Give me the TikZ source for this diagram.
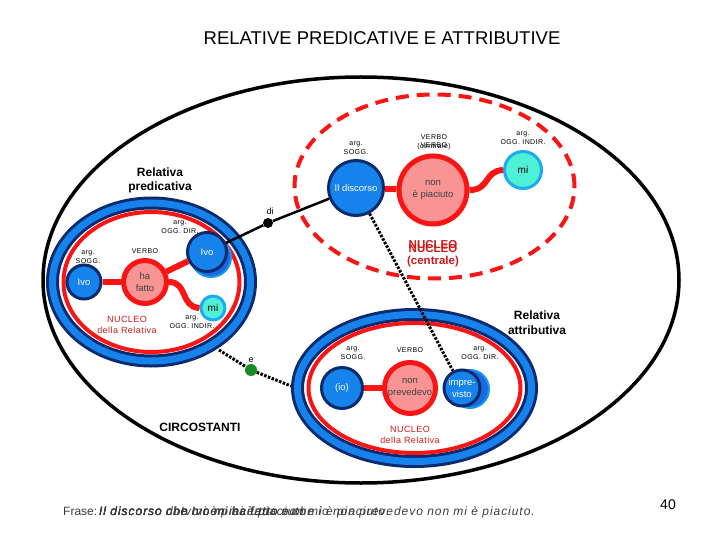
\documentclass[tikz,border=0pt]{standalone}
\usepackage{fontspec}
\setmainfont{Liberation Sans}
\usetikzlibrary{calc}
\definecolor{navyc}{RGB}{12,42,110}
\definecolor{bluec}{RGB}{22,130,235}
\definecolor{shadowc}{RGB}{25,105,225}
\definecolor{pinkc}{RGB}{248,148,148}
\definecolor{redc}{RGB}{250,20,20}
\definecolor{cyanc}{RGB}{80,240,215}
\definecolor{cyanb}{RGB}{30,170,240}
\definecolor{nucred}{RGB}{205,25,25}
\definecolor{greenc}{RGB}{25,140,35}
\definecolor{frasec}{RGB}{60,60,60}
\begin{document}
\begin{tikzpicture}[x=1pt,y=-1pt,
 argc/.style={circle,fill=bluec,draw=navyc,line width=3pt,text=white,inner sep=0pt,font=\fontsize{9.5}{11.5}\selectfont,align=center},
 verbc/.style={circle,fill=pinkc,draw=redc,line width=5pt,inner sep=0pt,text=black!75,font=\fontsize{9.5}{12}\selectfont,align=center},
 mic/.style={circle,fill=cyanc,draw=cyanb,line width=3pt,inner sep=0pt,font=\fontsize{10}{12}\selectfont},
 shad/.style={circle,fill=shadowc,draw=cyanb!50!bluec,line width=2pt,inner sep=0pt},
 lbl/.style={inner sep=0pt,align=center,font=\fontsize{7}{9}\selectfont\addfontfeatures{LetterSpace=6}},
 rel/.style={inner sep=0pt,align=center,font=\bfseries\fontsize{12}{14.5}\selectfont},
 nuc/.style={inner sep=0pt,align=center,text=nucred,font=\fontsize{9}{11}\selectfont\addfontfeatures{LetterSpace=5}},
 nucb/.style={inner sep=0pt,align=center,text=nucred,font=\bfseries\fontsize{11.5}{12}\selectfont},
 redlink/.style={draw=redc,line width=6pt},
 dotlink/.style={draw=black,line width=3pt,dash pattern=on 2.5pt off 1.5pt},
 sent/.style={anchor=base west,inner sep=0pt,text=frasec,font=\itshape\fontsize{12}{14}\selectfont\addfontfeatures{LetterSpace=8}},
]
\useasboundingbox (0,0) rectangle (720,540);

% title
\node[font=\fontsize{18.5}{21}\selectfont] (title) at (382,38) {RELATIVE PREDICATIVE E ATTRIBUTIVE};

% big ellipse and dashed nucleus
\draw[line width=3.5pt] (361,280) ellipse [x radius=318pt, y radius=203pt];
\draw[redc,line width=4pt,dash pattern=on 13pt off 8pt] (434.5,186.5) ellipse [x radius=140pt,y radius=92pt];

% left relative ring
\draw[navyc,line width=13pt] (151.5,282) ellipse [x radius=99pt,y radius=79pt];
\draw[bluec,line width=7pt] (151.5,282) ellipse [x radius=99pt,y radius=79pt];
\draw[redc,line width=4pt] (151.5,282) ellipse [x radius=88pt,y radius=70pt];

% right relative ring
\draw[navyc,line width=13pt] (414.5,388) ellipse [x radius=117pt,y radius=73.5pt];
\draw[bluec,line width=7pt] (414.5,388) ellipse [x radius=117pt,y radius=73.5pt];
\draw[redc,line width=4pt] (414.5,388) ellipse [x radius=106pt,y radius=65pt];

% labels top
\node[lbl] (lsogg) at (356,148) {arg.\\SOGG.};
\node[lbl] (lverbc) at (434,142.5) {VERBO\\(centrale)};
\node[lbl] (lverbc2) at (434,145) {VERBO};
\node[lbl] (lindir) at (523,138) {arg.\\OGG. INDIR.};

% top nodes
\node[argc,minimum size=55pt] (disc) at (356,188) {Il discorso};
\node[verbc,minimum size=68pt] (piac) at (433,190) {non\\è piaciuto};
\node[mic,minimum size=37pt] (mitop) at (523,170) {mi};
\node[nucb] (nuc1) at (433,245) {NUCLEO};
\node[nucb] (nuc2) at (433,256) {NUCLEO\\(centrale)};

\draw[redlink] (disc) -- (piac);
\draw[redlink] (piac.east) .. controls (490,190) and (484,171) .. (mitop.west);

% left relative contents
\node[rel] (relpred) at (160,180.5) {Relativa\\predicativa};
\node[lbl] (lsogg2) at (88,257) {arg.\\SOGG.};
\node[lbl] (lverb2) at (145,251) {VERBO};
\node[lbl] (ldir2) at (180,227) {arg.\\OGG. DIR.};
\node[lbl] (lindir2) at (192,322.5) {arg.\\OGG. INDIR.};
\node[nuc] (nucl) at (127,324.5) {NUCLEO\\della Relativa};

\node[argc,minimum size=34pt] (ivo1) at (84,282) {Ivo};
\node[verbc,minimum size=43pt] (hafatto) at (145,282) {ha\\fatto};
\node[shad,minimum size=40pt] (ivo2s) at (211,257) {};
\node[argc,minimum size=39pt] (ivo2) at (207,252) {Ivo};
\node[mic,minimum size=24pt] (mi2) at (213,308) {mi};

\draw[redlink] (ivo1) -- (hafatto);
\draw[redlink] (hafatto) -- (ivo2);
\draw[redlink] (hafatto.east) .. controls (188,282) and (180,307) .. (mi2.west);

% right relative contents
\node[rel] (relattr) at (537,322.5) {Relativa\\attributiva};
\node[lbl] (lsogg3) at (353,353) {arg.\\SOGG.};
\node[lbl] (lverb3) at (410,350) {VERBO};
\node[lbl] (ldir3) at (480,353) {arg.\\OGG. DIR.};
\node[nuc] (nucr) at (410,435) {NUCLEO\\della Relativa};

\node[argc,minimum size=41pt] (io) at (342,388) {(io)};
\node[verbc,minimum size=51pt] (prev) at (410,388) {non\\prevedevo};
\node[shad,minimum size=38pt] (imps) at (470,389) {};
\node[argc,minimum size=36pt] (imp) at (462,388) {impre-\\visto};

\draw[redlink] (io) -- (prev);

% di connector
\node[circle,fill=black,inner sep=0pt,minimum size=10pt] (didot) at (268,223) {};
\node[inner sep=0pt,font=\fontsize{9}{10}\selectfont] (dilbl) at (270,211) {di};
\draw[line width=2.5pt] (ivo2) -- (didot) -- (disc);

% dotted connector nucleus -> imprevisto
\draw[dotlink] (disc) -- (imp);

% e connector
\coordinate (eL) at (219,350);
\coordinate (eR) at (291,386);
\node[circle,fill=greenc,inner sep=0pt,minimum size=12pt] (edot) at (251,370) {};
\node[inner sep=0pt,font=\fontsize{9}{10}\selectfont] (elbl) at (251,360) {e};
\draw[dotlink] (eL) -- (edot) -- (eR);

% circostanti
\node[inner sep=0pt,font=\bfseries\fontsize{12}{14}\selectfont] (circ) at (200,427) {CIRCOSTANTI};

% sentence
\node[anchor=base west,inner sep=0pt,text=frasec,font=\fontsize{12}{14}\selectfont] (frase) at (63,515) {Frase:};
\node[sent] (s1) at (99,515) {Il discorso non mi è piaciuto.};
\node[sent] (s2) at (99,515) {Il discorso di Ivo non mi è piaciuto.};
\node[sent] (s3) at (99,515) {Il discorso che Ivo mi ha fatto non mi è piaciuto.};
\node[sent] (s4) at (99,515) {Il discorso che Ivo mi ha fatto e che io non prevedevo non mi è piaciuto.};

\node[font=\fontsize{14}{16}\selectfont] (pg) at (668,505) {40};
\end{tikzpicture}
\end{document}
